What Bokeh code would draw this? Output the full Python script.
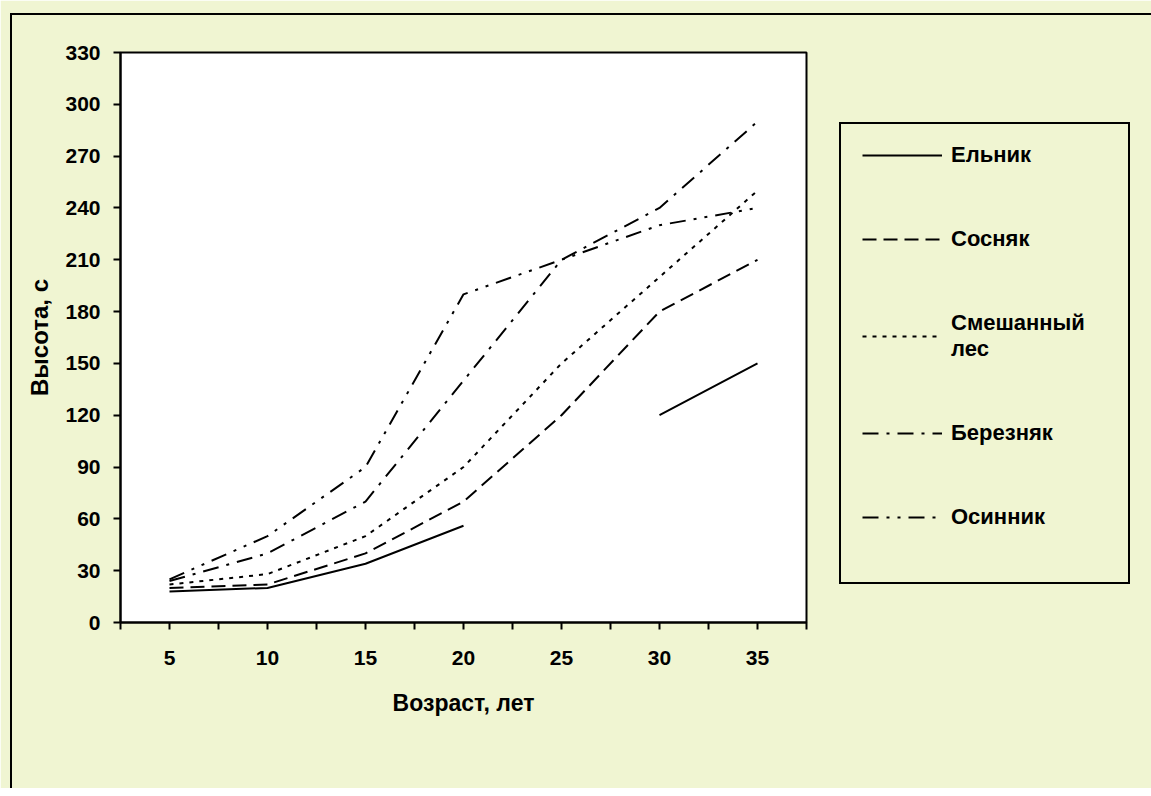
import numpy as np
from bokeh.plotting import figure
from bokeh.models import FixedTicker, Legend, LegendItem, Range1d, InlineStyleSheet
from bokeh.embed import file_html
from bokeh.resources import INLINE

# ---- data ----
ages = [5, 10, 15, 20, 25, 30, 35]
elnik = [18, 20, 34, 56, np.nan, 120, 150]
sosnyak = [20, 22, 40, 70, 120, 180, 210]
smeshanny = [22, 28, 50, 90, 150, 200, 250]
bereznyak = [24, 40, 70, 140, 210, 240, 290]
osinnik = [25, 50, 90, 190, 210, 230, 240]
y_ticks = list(range(0, 331, 30))
x_label = "Возраст, лет"
y_label = "Высота, с"
names = ["Ельник", "Сосняк", "Смешанный\nлес", "Березняк", "Осинник"]

FONT = "Liberation Sans"
BG = "#f0f5d2"

step = (ages[1] - ages[0]) / 2.0

# chart-area border (left/top edges) and legend box drawn as page decoration
css = """
:host::before {
  content: ""; position: absolute; left: 10px; top: 13px; right: 0px; bottom: 0px;
  border-left: 2px solid black; border-top: 2px solid black;
  box-sizing: border-box; pointer-events: none; z-index: 10;
}
:host::after {
  content: ""; position: absolute; left: 839px; top: 122px; width: 291px; height: 462px;
  border: 2px solid black; box-sizing: border-box; pointer-events: none; z-index: 10;
}
"""

p = figure(
    frame_width=686, frame_height=570,
    min_border_left=120, min_border_top=52, min_border_right=337, min_border_bottom=166,
    x_range=Range1d(ages[0] - step, ages[-1] + step),
    y_range=Range1d(y_ticks[0], y_ticks[-1]),
    output_backend="svg", toolbar_location=None,
    background_fill_color="white", border_fill_color=BG,
)
p.stylesheets = [InlineStyleSheet(css=css)]
p.outline_line_color = "black"
p.outline_line_width = 2
p.grid.visible = False

# axes
p.xaxis.ticker = FixedTicker(ticks=ages, minor_ticks=[a - step for a in ages] + [ages[-1] + step])
p.yaxis.ticker = FixedTicker(ticks=y_ticks, minor_ticks=[])
for ax in (p.xaxis[0], p.yaxis[0]):
    ax.axis_line_width = 2
    ax.axis_line_color = "black"
    ax.major_tick_line_width = 2
    ax.major_tick_line_color = "black"
    ax.major_tick_in = 0
    ax.major_tick_out = 7
    ax.minor_tick_line_width = 2
    ax.minor_tick_line_color = "black"
    ax.minor_tick_in = 0
    ax.major_label_text_font = FONT
    ax.major_label_text_font_style = "bold"
    ax.major_label_text_font_size = "21px"
    ax.major_label_text_color = "black"
    ax.axis_label_text_font = FONT
    ax.axis_label_text_font_style = "bold"
    ax.axis_label_text_color = "black"
p.xaxis.axis_label_text_font_size = "23px"
p.yaxis.axis_label_text_font_size = "24px"
p.xaxis.minor_tick_out = 7
p.yaxis.minor_tick_out = 0
p.xaxis.major_label_standoff = 21
p.yaxis.major_label_standoff = 13
p.xaxis.axis_label = x_label
p.yaxis.axis_label = y_label
p.xaxis.axis_label_standoff = 22
p.yaxis.axis_label_standoff = 9

series = [elnik, sosnyak, smeshanny, bereznyak, osinnik]
dashes = ["solid", "14 7", "4 6", "16 8 3 8", "16 8 3 8 3 8"]
renderers = []
for vals, dash in zip(series, dashes):
    r = p.line(ages, vals, line_color="black", line_width=2, line_dash=dash)
    renderers.append(r)

legend = Legend(
    items=[LegendItem(label=n, renderers=[r]) for n, r in zip(names, renderers)],
    location=(56, 92),
    padding=0, margin=0, spacing=58,
    glyph_width=80, glyph_height=20, label_height=20, label_standoff=9,
    label_text_font=FONT, label_text_font_style="bold", label_text_font_size="22px",
    label_text_color="black",
    border_line_alpha=0, background_fill_alpha=0,
)
p.add_layout(legend, "right")

open("out.html", "w").write(file_html(p, INLINE))
